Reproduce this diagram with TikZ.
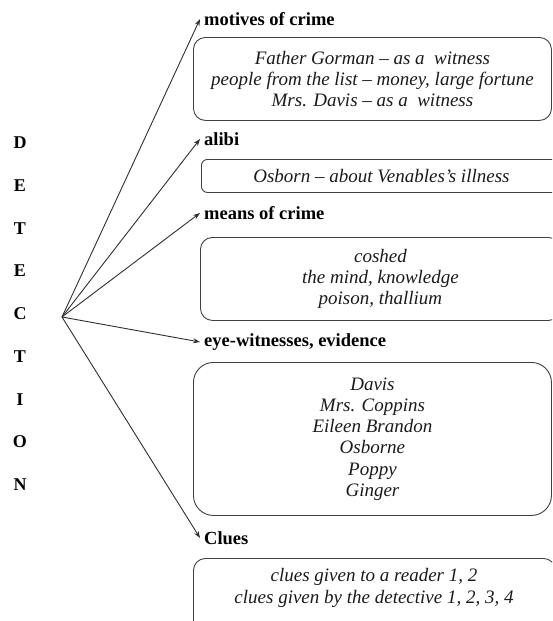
\documentclass[tikz,border=0pt]{standalone}
\usepackage{fontspec}
\setmainfont{Liberation Serif}
\usetikzlibrary{arrows.meta,positioning}
\definecolor{frame}{HTML}{404040}
\definecolor{ink}{HTML}{1A1A1A}
\definecolor{pointer}{HTML}{303030}
\tikzset{
  letter/.style={font=\fontsize{18}{20}\selectfont\bfseries, inner sep=0pt},
  headlabel/.style={font=\fontsize{18.5}{21}\selectfont\bfseries, anchor=west,
    inner xsep=4pt, inner ysep=0pt},
  notetext/.style={align=center, font=\fontsize{19}{21.2}\selectfont\itshape,
    text=ink, inner sep=0pt},
  notebox/.style={notetext, draw=frame, line width=0.9pt, rounded corners=12pt,
    anchor=north west},
  arr/.style={-{Stealth[length=7pt,width=5pt]}, line width=0.9pt, draw=pointer}
}

\begin{document}
\begin{tikzpicture}[x=1pt,y=-1pt]
  \useasboundingbox (0,0) rectangle (552,621);
  \clip (0,0) rectangle (552,621);
  % vertical word
  \foreach \ch [count=\i] in {D,E,T,E,C,T,I,O,N}
    \node[letter] (det\i) at (20,{143+42.7*(\i-1)}) {\ch};
  \coordinate (hub) at (62,317);
  % headings
  \node[headlabel] (motives) at (200,19) {motives of crime};
  \node[headlabel] (alibi) at (200,139) {alibi};
  \node[headlabel] (means) at (200,213) {means of crime};
  \node[headlabel] (witness) at (200,342) {eye-witnesses, evidence};
  \node[headlabel] (clues) at (200,538) {Clues};
  % boxes
  \node[notebox, minimum width=358pt, minimum height=83pt] (motivesbox) at (193,37)
    {Father Gorman -- as a \ witness\\people from the list -- money, large fortune\\Mrs. Davis -- as a \ witness};
  \node[notebox, minimum width=360pt, minimum height=33pt, rounded corners=6pt] (alibibox) at (201,159)
    {Osborn -- about Venables’s illness};
  \node[notebox, minimum width=360pt, minimum height=83pt] (meansbox) at (200,237)
    {coshed\\the mind, knowledge\\poison, thallium};
  \node[notebox, minimum width=358pt, minimum height=153pt, rounded corners=20pt] (witnessbox) at (193,362)
    {Davis\\Mrs. Coppins\\Eileen Brandon\\Osborne\\Poppy\\Ginger};
  \node[notebox, minimum width=362pt, minimum height=80pt] (cluesbox) at (193,558) {};
  \node[notetext] (cluestext) at (374,588)
    {clues given to a reader 1, 2\\clues given by the detective 1, 2, 3, 4};
  % arrows
  \foreach \t in {motives,alibi,means,witness,clues}
    \draw[arr] (hub) -- (\t.west);
\end{tikzpicture}
\end{document}
